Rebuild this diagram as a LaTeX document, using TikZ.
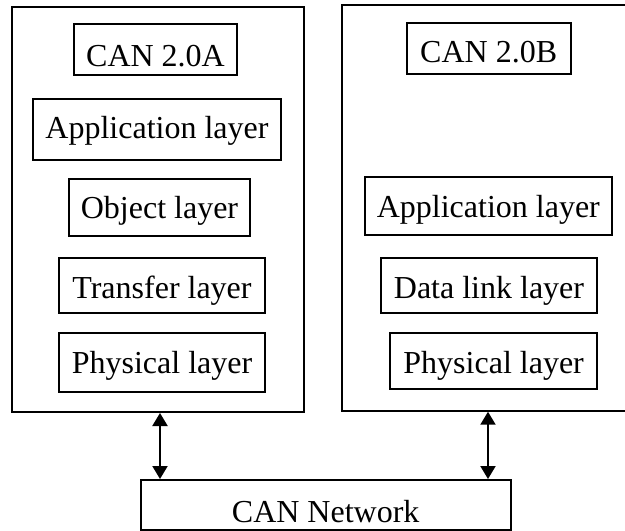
\documentclass[tikz,border=0pt]{standalone}
\usepackage{fontspec}
\setmainfont{Liberation Serif}
\usetikzlibrary{arrows.meta}
\begin{document}
\begin{tikzpicture}[x=1pt,y=-1pt,
  box/.style={draw=black,line width=2pt,rectangle,inner xsep=2pt,inner ysep=0pt,
    text depth=0pt,font=\fontsize{32}{38}\selectfont},
  th/.style={text height=#1},
  frame/.style={draw=black,line width=2pt,rectangle,inner sep=0pt},
  dbl/.style={line width=2pt,{Triangle[width=15pt,length=13pt]}-{Triangle[width=15pt,length=13pt]}}]
\useasboundingbox (0,0) rectangle (625,531);
\clip (0,0) rectangle (625,531);
% outer frames
\node[frame,minimum width=291.7pt,minimum height=405.3pt] (leftOuter) at (158.15,209.35) {};
\node[frame,minimum width=303.3pt,minimum height=405.7pt] (rightOuter) at (493.35,207.85) {};
% left stack
\node[box,th=33pt,minimum width=163pt,minimum height=51pt] (can20a) at (155.5,49.5) {CAN 2.0A};
\node[box,th=18.6pt,minimum width=248pt,minimum height=61pt] (appL) at (157,129.5) {Application layer};
\node[box,th=22.6pt,minimum width=181pt,minimum height=57pt] (objL) at (159.5,207.5) {Object layer};
\node[box,th=25.6pt,minimum width=206pt,minimum height=55pt] (trL) at (162,285.5) {Transfer layer};
\node[box,th=21pt,minimum width=206pt,minimum height=59pt] (phyL) at (162,362.5) {Physical layer};
% right stack
\node[box,th=28.7pt,minimum width=164pt,minimum height=51.3pt] (can20b) at (488.7,48.35) {CAN 2.0B};
\node[box,th=23.9pt,minimum width=246.7pt,minimum height=58.3pt] (appR) at (488.35,205.85) {Application layer};
\node[box,th=25.6pt,minimum width=216.6pt,minimum height=54.4pt] (dlR) at (489,285.5) {Data link layer};
\node[box,th=23.4pt,minimum width=207.3pt,minimum height=56pt] (phyR) at (493.65,361.3) {Physical layer};
% network
\node[box,th=34.4pt,minimum width=370pt,minimum height=50pt] (net) at (325.7,505) {CAN Network};
% connectors
\coordinate (la) at (160,0);
\coordinate (ra) at (488,0);
\draw[dbl] (leftOuter.south -| la) -- (net.north -| la);
\draw[dbl] (rightOuter.south -| ra) -- (net.north -| ra);
\end{tikzpicture}
\end{document}
